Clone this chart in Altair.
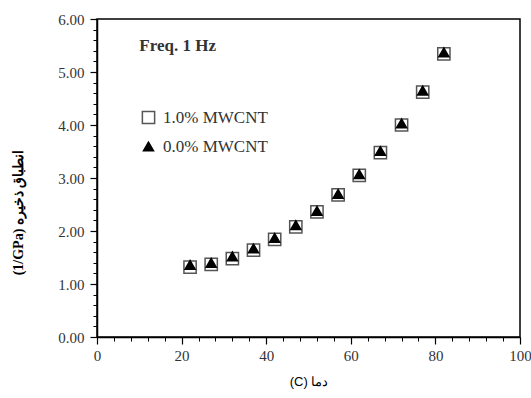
import altair as alt
import pandas as pd

# ---- data ----
temperature = [22, 27, 32, 37, 42, 47, 52, 57, 62, 67, 72, 77, 82]
mwcnt_10 = [1.32, 1.37, 1.48, 1.64, 1.84, 2.08, 2.36, 2.68, 3.05, 3.48, 4.00, 4.62, 5.34]
mwcnt_00 = [1.36, 1.40, 1.52, 1.67, 1.87, 2.11, 2.38, 2.70, 3.07, 3.51, 4.03, 4.65, 5.37]
series = ["1.0% MWCNT", "0.0% MWCNT"]

y_major = [0, 1, 2, 3, 4, 5, 6]
y_minor = [0, 0.2, 0.4, 0.6, 0.8, 1.0, 1.2, 1.4, 1.6, 1.8, 2.0, 2.2, 2.4, 2.6, 2.8,
           3.0, 3.2, 3.4, 3.6, 3.8, 4.0, 4.2, 4.4, 4.6, 4.8, 5.0, 5.2, 5.4, 5.6, 5.8, 6.0]
x_major = [0, 20, 40, 60, 80, 100]
x_minor = [0, 4, 8, 12, 16, 20, 24, 28, 32, 36, 40, 44, 48, 52, 56, 60, 64, 68, 72,
           76, 80, 84, 88, 92, 96, 100]

annot_x = [10]
annot_y = [5.5]
annot_text = ["Freq. 1 Hz"]

x_title = "(C) دما"
y_title = "(1/GPa) انطباق ذخیره"

df = pd.DataFrame({
    "temp": temperature + temperature,
    "value": mwcnt_10 + mwcnt_00,
    "series": [series[0]] * len(temperature) + [series[1]] * len(temperature),
    "ord": [0] * len(temperature) + [1] * len(temperature),
})
ann = pd.DataFrame({"temp": annot_x, "value": annot_y, "label": annot_text})

SERIF = "Liberation Serif"
TXT = "#333333"

xscale = alt.Scale(domain=[0, 100], nice=False, zero=False)
yscale = alt.Scale(domain=[0, 6], nice=False, zero=False)

legend = alt.Legend(
    title=None, orient="none", legendX=43, legendY=90,
    labelFont=SERIF, labelFontSize=17, labelColor=TXT,
    rowPadding=10, padding=0, labelOffset=6, symbolStrokeWidth=1.5,
)

minor = alt.Chart(df).mark_point(opacity=0).encode(
    x=alt.X("temp:Q", scale=xscale,
            axis=alt.Axis(values=x_minor, labels=False, title=None, domain=False,
                          tickSize=4, tickColor="black", tickWidth=1, grid=False,
                          orient="bottom")),
    y=alt.Y("value:Q", scale=yscale,
            axis=alt.Axis(values=y_minor, labels=False, title=None, domain=False,
                          tickSize=4, tickColor="black", tickWidth=1, grid=False,
                          orient="left")),
)

points = alt.Chart(df).mark_point(opacity=1, strokeWidth=1.5).encode(
    x=alt.X("temp:Q", scale=xscale,
            axis=alt.Axis(values=x_major, format="d", title=x_title, orient="bottom",
                          tickSize=7, tickColor="black", tickWidth=1.2,
                          domainColor="black", domainWidth=1.5, grid=False,
                          labelFont=SERIF, labelFontSize=15, labelColor=TXT,
                          labelPadding=4, labelFlush=False,
                          titleFont="Liberation Sans", titleFontSize=13,
                          titleFontWeight="normal", titleColor="black",
                          titleBaseline="top", titleY=38)),
    y=alt.Y("value:Q", scale=yscale,
            axis=alt.Axis(values=y_major, format=".2f", title=y_title, orient="left",
                          tickSize=7, tickColor="black", tickWidth=1.2,
                          domainColor="black", domainWidth=1.5, grid=False,
                          labelFont=SERIF, labelFontSize=15, labelColor=TXT,
                          labelPadding=6, labelFlush=False,
                          titleFont=SERIF, titleFontSize=14, titleFontWeight="bold",
                          titleColor="black", titleAngle=-90, titleX=-79, titleY=193,
                          titleAlign="center", titleBaseline="middle")),
    shape=alt.Shape("series:N", scale=alt.Scale(domain=series, range=["square", "triangle-up"]),
                    legend=legend),
    fill=alt.Fill("series:N", scale=alt.Scale(domain=series, range=["white", "black"]),
                  legend=legend),
    stroke=alt.Stroke("series:N", scale=alt.Scale(domain=series, range=["#555555", "black"]),
                      legend=legend),
    size=alt.Size("series:N", scale=alt.Scale(domain=series, range=[150, 100]),
                  legend=legend),
    order=alt.Order("ord:Q"),
)

label = alt.Chart(ann).mark_text(
    align="left", baseline="middle", font=SERIF, fontSize=17, fontWeight="bold", color=TXT
).encode(
    x=alt.X("temp:Q", scale=xscale, axis=None),
    y=alt.Y("value:Q", scale=yscale, axis=None),
    text="label:N",
)

chart = alt.layer(minor, points, label).resolve_axis(
    x="independent", y="independent"
).properties(
    width=423, height=318,
    autosize=alt.AutoSizeParams(type="none"),
    padding={"left": 97, "top": 19, "right": 11, "bottom": 61},
    background="white",
).configure_view(stroke="black", strokeWidth=1.5)

chart.save("out.html", embed_options={"renderer": "svg", "actions": False})
